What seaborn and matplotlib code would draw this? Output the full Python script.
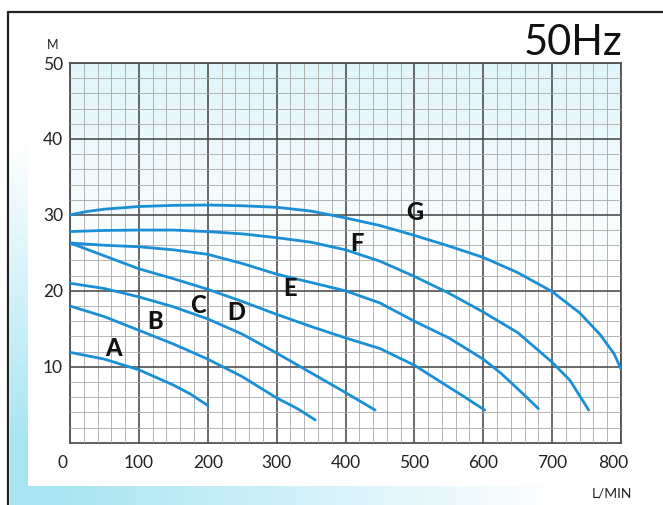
import numpy as np
import pandas as pd
import matplotlib
matplotlib.use("Agg")
import matplotlib.pyplot as plt
import matplotlib.transforms as mtransforms
from matplotlib.ticker import MultipleLocator
import seaborn as sns

# pump curves: flow (L/min) vs head (m)
flow_a = [0, 50, 100, 150, 175, 200]
head_a = [11.9, 11.0, 9.6, 7.6, 6.4, 4.9]

flow_b = [0, 50, 100, 150, 200, 250, 300, 330, 356]
head_b = [18.0, 16.6, 14.8, 13.0, 11.0, 8.7, 5.9, 4.5, 3.0]

flow_c = [0, 50, 100, 150, 200, 250, 300, 350, 400, 443]
head_c = [21.0, 20.3, 19.2, 17.9, 16.3, 14.3, 11.8, 9.2, 6.6, 4.3]

flow_d = [0, 50, 100, 150, 200, 250, 300, 350, 400, 450, 500, 547, 575, 602]
head_d = [26.3, 24.6, 22.9, 21.6, 20.2, 18.6, 16.9, 15.3, 13.8, 12.4, 10.2, 7.5, 5.9, 4.3]

flow_e = [0, 50, 100, 150, 200, 250, 300, 350, 400, 450, 500, 550, 600, 625, 650, 680]
head_e = [26.3, 26.0, 25.8, 25.4, 24.8, 23.6, 22.2, 21.1, 20.0, 18.4, 16.0, 13.8, 11.0, 9.2, 7.1, 4.5]

flow_f = [0, 50, 100, 150, 200, 250, 300, 350, 400, 450, 500, 550, 600, 650, 700, 726, 753]
head_f = [27.8, 27.95, 28.0, 28.0, 27.8, 27.5, 27.0, 26.4, 25.4, 23.9, 21.9, 19.7, 17.2, 14.5, 10.6, 8.2, 4.3]

flow_g = [0, 25, 50, 100, 150, 200, 250, 300, 350, 400, 450, 500, 550, 600, 650, 700, 740, 770, 790, 800]
head_g = [30.0, 30.45, 30.75, 31.1, 31.25, 31.3, 31.2, 31.0, 30.5, 29.6, 28.6, 27.3, 25.9, 24.4, 22.4, 19.9, 17.1, 14.2, 11.7, 9.7]

curve_names = ["A", "B", "C", "D", "E", "F", "G"]
curve_flows = [flow_a, flow_b, flow_c, flow_d, flow_e, flow_f, flow_g]
curve_heads = [head_a, head_b, head_c, head_d, head_e, head_f, head_g]

# letter label positions (flow, head)
label_x = [63, 123, 186, 242, 319, 417, 500]
label_y = [12.4, 15.9, 18.1, 17.1, 20.3, 26.2, 30.3]

x_ticks = [0, 100, 200, 300, 400, 500, 600, 700, 800]
y_ticks = [10, 20, 30, 40, 50]

LINE_COLOR = "#1a8fd6"
FONT = ["Lato", "DejaVu Sans"]

rows = []
for name, fl, hd in zip(curve_names, curve_flows, curve_heads):
    for f, h in zip(fl, hd):
        rows.append({"pump": name, "flow": f, "head": h})
df = pd.DataFrame(rows)

sns.set_theme(style="white")
plt.rcParams["font.family"] = FONT

W, H = 663, 505
fig = plt.figure(figsize=(W / 100, H / 100), dpi=100)

# page background: white panel with cyan glow on the left and bottom
bg = fig.add_axes([0, 0, 1, 1], zorder=-2)
img = np.ones((H, W, 3))
cyan = np.array([0.66, 0.90, 0.95])
yy, xx = np.mgrid[0:H, 0:W]
alpha = np.zeros((H, W))
left = (xx >= 10) & (xx < 28) & (yy > 12)
alpha[left] = np.clip((yy[left] - 140) / 300, 0, 1)
bottom = (yy >= 486) & (xx >= 10)
alpha[bottom] = np.maximum(alpha[bottom], np.clip(1 - (xx[bottom] - 60) / 500, 0, 1))
img = img * (1 - alpha[..., None]) + cyan * alpha[..., None]
bg.imshow(img, extent=(0, W, H, 0), aspect="auto")
bg.plot([8, W], [12, 12], color="#222222", lw=1.6)
bg.plot([8, 8], [12, H], color="#222222", lw=1.6)
bg.set_xlim(0, W)
bg.set_ylim(H, 0)
bg.axis("off")

ax = fig.add_axes([70 / W, 1 - 442.7 / H, (621 - 70) / W, (442.7 - 63) / H])

# faint blue tint at the top of the grid paper
grad = np.linspace(0, 1, 200)[:, None]
tint = np.array([0.88, 0.96, 0.98])
fade = np.clip(1 - grad / 0.55, 0, 1)[..., None]
paper = np.ones((200, 1, 3)) * (1 - fade) + tint * fade
ax.imshow(paper, extent=(0, 800, 0, 50), aspect="auto", zorder=0)

sns.lineplot(data=df, x="flow", y="head", hue="pump", sort=False,
             palette={n: LINE_COLOR for n in curve_names}, linewidth=2.0,
             legend=False, ax=ax, zorder=3)

for name, lx, ly in zip(curve_names, label_x, label_y):
    ax.text(lx, ly, name, fontsize=17, fontweight="black", color="#111111",
            ha="center", va="center", zorder=4)

ax.set_xlim(0, 800)
ax.set_ylim(0, 50)
ax.xaxis.set_major_locator(MultipleLocator(100))
ax.xaxis.set_minor_locator(MultipleLocator(20))
ax.yaxis.set_major_locator(MultipleLocator(10))
ax.yaxis.set_minor_locator(MultipleLocator(2))
ax.grid(which="minor", color="#a8a8a8", lw=0.6, zorder=1)
ax.grid(which="major", color="#505050", lw=1.2, zorder=2)
ax.set_axisbelow(False)
for sp in ax.spines.values():
    sp.set_color("#505050")
    sp.set_linewidth(1.3)

ax.set_xticks(x_ticks)
ax.set_xticklabels([str(v) for v in x_ticks])
ax.set_yticks(y_ticks)
ax.set_yticklabels([str(v) for v in y_ticks])
ax.tick_params(axis="both", which="both", length=0, labelsize=12.5,
               labelcolor="#222222")
ax.tick_params(axis="x", pad=9)
ax.tick_params(axis="y", pad=5)
ax.set_xlabel("")
ax.set_ylabel("")

# nudge the end labels inward like the original
xl = ax.get_xticklabels()
xl[0].set_transform(xl[0].get_transform() +
                    mtransforms.ScaledTranslation(-0.07, 0, fig.dpi_scale_trans))
xl[-1].set_transform(xl[-1].get_transform() +
                     mtransforms.ScaledTranslation(-0.08, 0, fig.dpi_scale_trans))

fig.text(53 / W, 1 - 45 / H, "M", fontsize=9, color="#222222",
         ha="center", va="center")
fig.text(622 / W, 1 - 43 / H, "50Hz", fontsize=30, color="#111111",
         ha="right", va="center")
fig.text(632 / W, 1 - 494 / H, "L/MIN", fontsize=10, color="#222222",
         ha="right", va="center")

fig.savefig("out.png", dpi=100)
plt.close(fig)
